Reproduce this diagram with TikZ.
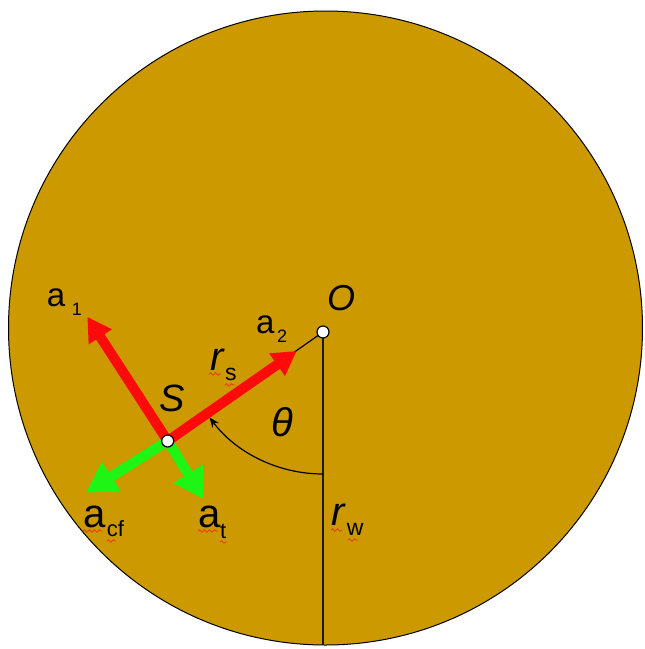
\documentclass[tikz,border=0pt]{standalone}
\usepackage{fontspec}
\setmainfont{Liberation Sans}
\usetikzlibrary{arrows.meta,decorations.pathmorphing}
\definecolor{wheel}{RGB}{204,153,0}
\definecolor{vred}{RGB}{255,10,10}
\definecolor{vgreen}{RGB}{30,245,20}
\definecolor{squig}{RGB}{232,64,20}
\begin{document}
\begin{tikzpicture}[x=1pt,y=-1pt,
  lbl/.style={inner sep=0pt, anchor=base west},
  big/.style={font=\fontsize{33}{33}\selectfont},
  huge/.style={font=\fontsize{40}{40}\selectfont},
  ital/.style={font=\itshape\fontsize{#1}{#1}\selectfont},
  sub/.style={font=\fontsize{#1}{#1}\selectfont},
  dot/.style={circle, draw=black, fill=white, line width=1.2pt, minimum size=12pt, inner sep=0pt},
  redarrow/.style={draw=vred, line width=10pt, -{Triangle[length=24pt,width=26pt]}},
  greenarrow/.style={draw=vgreen, line width=10pt, -{Triangle[length=30pt,width=33pt]}},
  squiggle/.style={draw=squig, line width=0.9pt, decorate, decoration={snake, segment length=5pt, amplitude=1.2pt}}
]
\useasboundingbox (0,0) rectangle (645,649);
% wheel
\filldraw[fill=wheel, draw=black, line width=1pt] (325.5,328) circle[radius=317];
% key points
\coordinate (O) at (323,332);
\coordinate (S) at (167.7,441);
\coordinate (bot) at (323,645);
\coordinate (a1tip) at (87.3,316.7);
\coordinate (a2tip) at (296.7,351);
\coordinate (acftip) at (86,492.7);
\coordinate (attip) at (204,499.3);
% radius lines
\draw[line width=1.8pt, black!85!wheel] (O) -- (bot);
\draw[line width=1.2pt] (S) -- (O);
% theta arc
\draw[line width=1.2pt, -{Stealth[length=10pt,width=8pt]}]
  ([shift={(90:142)}]O) arc[start angle=90, end angle=143, radius=142];
% acceleration arrows
\draw[greenarrow] (S) -- (acftip);
\draw[greenarrow] (S) -- (attip);
\draw[redarrow] (S) -- (a1tip);
\draw[redarrow] (S) -- (a2tip);
% points
\node[dot] (Sdot) at (S) {};
\node[dot] (Odot) at (O) {};
% labels
\node[lbl, ital=36] (Olbl) at (327,310) {O};
\node[lbl, ital=38] (Slbl) at (159,411.7) {S};
\node[lbl, ital=40] (th) at (271.7,436) {θ};
\node[lbl, big] (a1) at (46.7,306.7) {a};
\node[lbl, sub=18] (a1s) at (71.7,315) {1};
\node[lbl, big] (a2) at (256,333) {a};
\node[lbl, sub=18] (a2s) at (277,342.7) {2};
\node[lbl, ital=40] (rs) at (210,370) {r};
\node[lbl, sub=23] (rss) at (225,380) {s};
\node[lbl, huge] (acf) at (83.3,527) {a};
\node[lbl, sub=22] (acfs) at (106.7,536.7) {cf};
\node[lbl, huge] (at) at (198.3,527) {a};
\node[lbl, sub=22] (ats) at (220,538) {t};
\node[lbl, ital=40] (rw) at (331.7,525) {r};
\node[lbl, sub=23] (rws) at (346.7,535) {w};
% spell-check squiggles
\draw[squiggle] (83,531) -- (103,531);
\draw[squiggle] (107,541) -- (116,541);
\draw[squiggle] (198,531) -- (218,531);
\draw[squiggle] (220,542) -- (227,542);
\draw[squiggle] (209,374) -- (221,374);
\draw[squiggle] (225,385) -- (235,385);
\draw[squiggle] (331,530) -- (342,530);
\draw[squiggle] (348,540) -- (358,540);
\end{tikzpicture}
\end{document}
